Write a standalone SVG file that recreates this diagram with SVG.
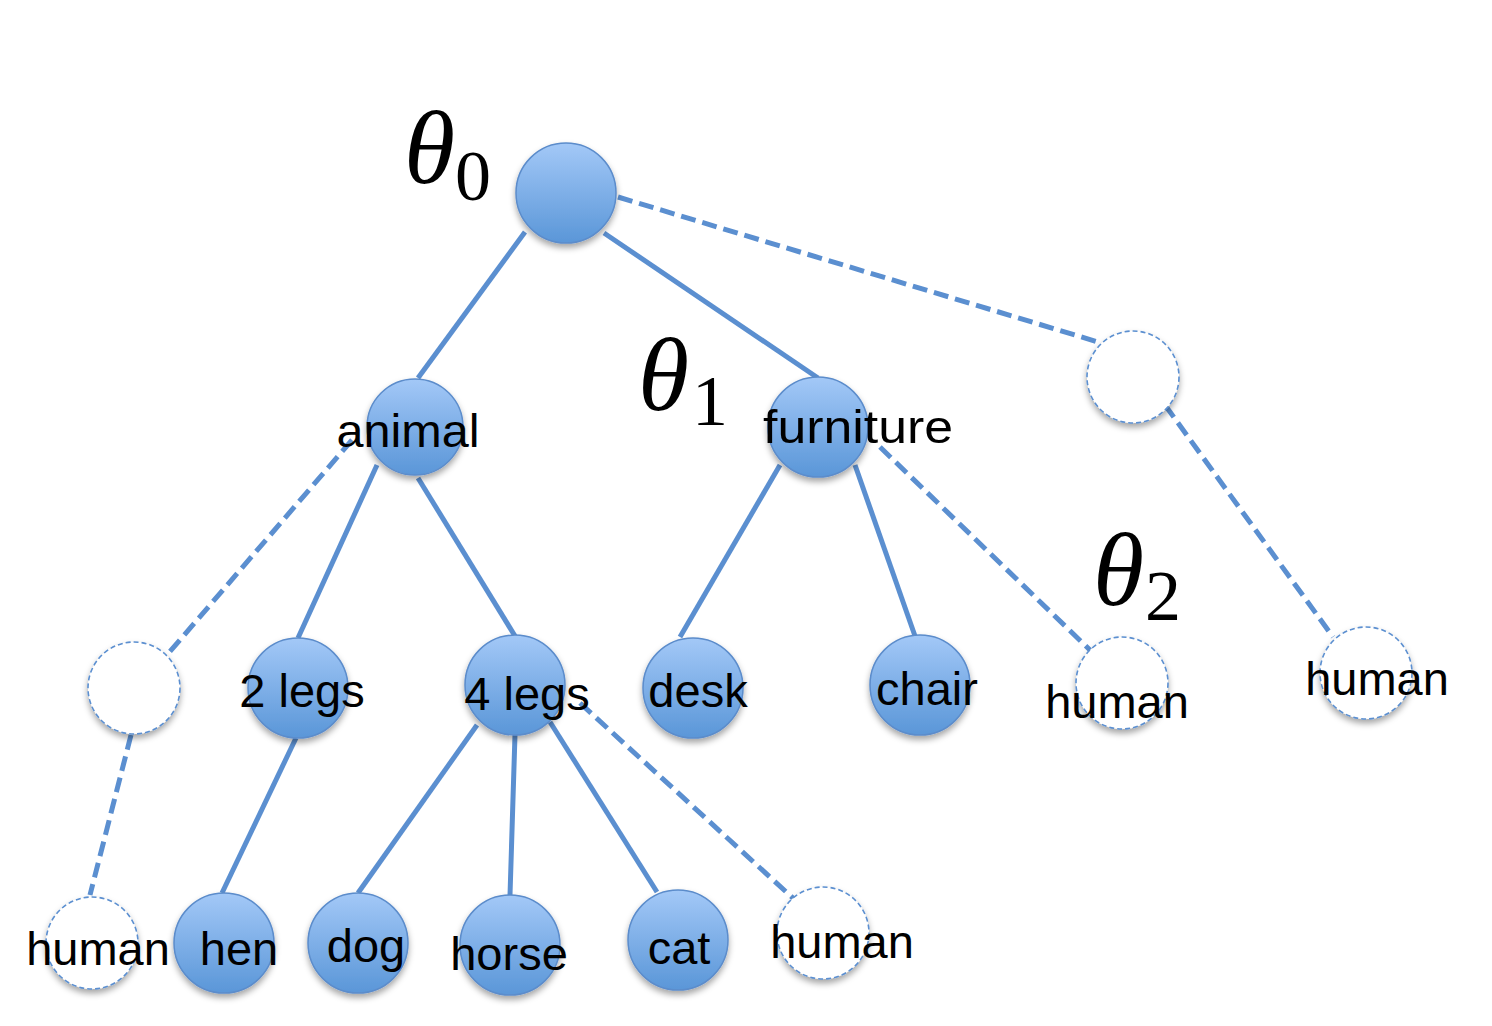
<svg xmlns="http://www.w3.org/2000/svg" width="1492" height="1026" viewBox="0 0 1492 1026">
<defs>
<linearGradient id="g" x1="0" y1="0" x2="0" y2="1">
<stop offset="0" stop-color="#a3c8f7"/>
<stop offset="1" stop-color="#5a96d8"/>
</linearGradient>
<filter id="sh" x="-30%" y="-30%" width="160%" height="170%">
<feDropShadow dx="0" dy="4" stdDeviation="3" flood-color="#000" flood-opacity="0.35"/>
</filter>
<style>
.n{fill:url(#g);stroke:#5b8ccb;stroke-width:1.5;filter:url(#sh)}
.e{fill:#fff;stroke:#5b8fd0;stroke-width:1.6;stroke-dasharray:5 3;filter:url(#sh)}
.s{stroke:#5b8fd0;stroke-width:5;fill:none;stroke-linecap:butt}
.d{stroke:#5b8fd0;stroke-width:5;fill:none;stroke-dasharray:15 7}
.t{font-family:"Liberation Sans",Arial,sans-serif;font-size:47px;fill:#000;text-anchor:middle}
.th{font-family:"Liberation Serif","Times New Roman",serif;font-style:italic;font-size:104px;fill:#000}
.sub{font-family:"Liberation Serif","Times New Roman",serif;font-size:72px;fill:#000}
</style>
</defs>
<rect width="1492" height="1026" fill="#fff"/>
<g id="connectors">
<line class="s" x1="525" y1="232" x2="418" y2="378"/>
<line class="s" x1="604" y1="233" x2="818" y2="378"/>
<line class="d" x1="618" y1="197" x2="1098" y2="342"/>
<line class="d" x1="1165" y1="405" x2="1333" y2="637"/>
<line class="d" x1="352" y1="440" x2="167" y2="655"/>
<line class="s" x1="377" y1="465" x2="298" y2="638"/>
<line class="s" x1="418" y1="478" x2="515" y2="636"/>
<line class="s" x1="780" y1="465" x2="680" y2="637"/>
<line class="s" x1="855" y1="465" x2="915" y2="636"/>
<line class="d" x1="880" y1="447" x2="1092" y2="652"/>
<line class="d" x1="131" y1="735" x2="90" y2="895"/>
<line class="s" x1="296" y1="738" x2="222" y2="893"/>
<line class="s" x1="477" y1="725" x2="358" y2="893"/>
<line class="s" x1="515" y1="735" x2="510" y2="895"/>
<line class="s" x1="550" y1="722" x2="657" y2="892"/>
<line class="d" x1="580" y1="703" x2="795" y2="900"/>
</g>
<g id="root"><circle class="n" cx="566" cy="193" r="50"/></g>
<g id="animal"><circle class="n" cx="415" cy="427" r="48"/><text class="t" x="408" y="447" textLength="143" lengthAdjust="spacingAndGlyphs">animal</text></g>
<g id="furniture"><circle class="n" cx="818" cy="427" r="50"/><text class="t" x="858" y="443" textLength="190" lengthAdjust="spacingAndGlyphs">furniture</text></g>
<g id="empty-top"><circle class="e" cx="1133" cy="377" r="46"/></g>
<g id="empty-left"><circle class="e" cx="134" cy="688" r="46"/></g>
<g id="legs2"><circle class="n" cx="298" cy="688" r="50"/><text class="t" x="302" y="707">2 legs</text></g>
<g id="legs4"><circle class="n" cx="515" cy="685" r="50"/><text class="t" x="527" y="710">4 legs</text></g>
<g id="desk"><circle class="n" cx="693" cy="688" r="50"/><text class="t" x="698" y="707">desk</text></g>
<g id="chair"><circle class="n" cx="920" cy="685" r="50"/><text class="t" x="927" y="705">chair</text></g>
<g id="human-f"><circle class="e" cx="1122" cy="683" r="46"/><text class="t" x="1117" y="718">human</text></g>
<g id="human-r"><circle class="e" cx="1366" cy="673" r="46"/><text class="t" x="1377" y="695">human</text></g>
<g id="human-l"><circle class="e" cx="92" cy="943" r="46"/><text class="t" x="98" y="965">human</text></g>
<g id="hen"><circle class="n" cx="224" cy="943" r="50"/><text class="t" x="239" y="965">hen</text></g>
<g id="dog"><circle class="n" cx="358" cy="943" r="50"/><text class="t" x="366" y="962">dog</text></g>
<g id="horse"><circle class="n" cx="510" cy="945" r="50"/><text class="t" x="509" y="970">horse</text></g>
<g id="cat"><circle class="n" cx="678" cy="940" r="50"/><text class="t" x="679" y="964">cat</text></g>
<g id="human-b"><circle class="e" cx="823" cy="933" r="46"/><text class="t" x="842" y="958">human</text></g>
<g id="theta0"><text class="th" x="404" y="183">θ</text><text class="sub" x="455" y="200">0</text></g>
<g id="theta1"><text class="th" x="638" y="410">θ</text><text class="sub" x="692" y="425">1</text></g>
<g id="theta2"><text class="th" x="1093" y="605">θ</text><text class="sub" x="1145" y="620">2</text></g>
</svg>
